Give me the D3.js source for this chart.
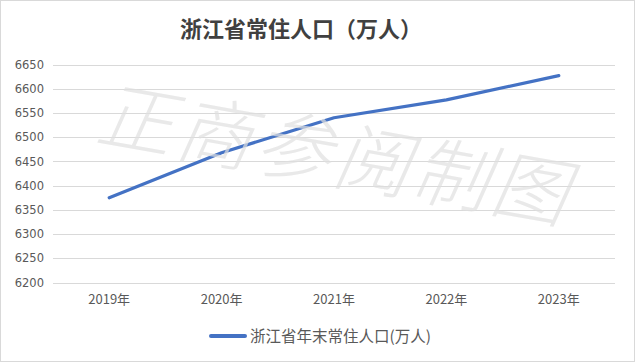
<!DOCTYPE html>
<html>
<head>
<meta charset="utf-8">
<script src="https://cdn.jsdelivr.net/npm/d3@7"></script>
<style>
  body { margin: 0; background: #fff; }
  text { font-family: "Noto Sans CJK SC", "DejaVu Sans", sans-serif; }
</style>
</head>
<body>
<div id="chart-area"></div>
<script>
// data
var years = ["2019年", "2020年", "2021年", "2022年", "2023年"];
var population = [6375, 6468, 6540, 6577, 6627];
var yTicks = [6200, 6250, 6300, 6350, 6400, 6450, 6500, 6550, 6600, 6650];
var title = "浙江省常住人口（万人）";
var seriesName = "浙江省年末常住人口(万人)";

var width = 635;
var height = 362;
var plot = {left: 53, right: 615, top: 64.5, bottom: 282.5};

var svg = d3.select("#chart-area")
  .append("svg")
    .attr("width", width)
    .attr("height", height);

svg.append("rect")
  .attr("x", 0.5).attr("y", 0.5)
  .attr("width", width - 1).attr("height", height - 1)
  .attr("fill", "#fff")
  .attr("stroke", "#d9d9d9");

var x = d3.scaleBand()
  .domain(years)
  .range([plot.left, plot.right]);

var y = d3.scaleLinear()
  .domain([6200, 6650])
  .range([plot.bottom, plot.top]);

// grid lines
svg.append("g")
  .selectAll("line")
  .data(yTicks)
  .enter().append("line")
    .attr("x1", plot.left).attr("x2", plot.right)
    .attr("y1", d => Math.round(y(d)) + 0.5)
    .attr("y2", d => Math.round(y(d)) + 0.5)
    .attr("stroke", "#d9d9d9");

// y axis labels
var yAxis = d3.axisLeft(y)
  .tickValues(yTicks)
  .tickFormat(d3.format("d"))
  .tickSize(0)
  .tickPadding(9);
svg.append("g")
  .attr("transform", "translate(" + (plot.left) + ",0)")
  .call(yAxis)
  .call(g => g.select(".domain").remove())
  .selectAll("text")
    .attr("fill", "#595959")
    .attr("font-size", "11.5px")
    .style("font-family", "DejaVu Sans, sans-serif");

// x axis labels
var xAxis = d3.axisBottom(x).tickSize(0).tickPadding(12);
svg.append("g")
  .attr("transform", "translate(0," + plot.bottom + ")")
  .call(xAxis)
  .call(g => g.select(".domain").remove())
  .selectAll("text")
    .attr("fill", "#595959")
    .attr("font-size", "13px");

// line
var line = d3.line()
  .x((d, i) => x(years[i]) + x.bandwidth() / 2)
  .y(d => y(d));

svg.append("path")
  .datum(population)
  .attr("d", line)
  .attr("fill", "none")
  .attr("stroke", "#4472c4")
  .attr("stroke-width", 3.2)
  .attr("stroke-linejoin", "round")
  .attr("stroke-linecap", "round");

// watermark
svg.append("text")
  .attr("transform", "translate(94,140) rotate(10) skewX(-14)")
  .attr("font-size", "76px")
  .attr("letter-spacing", "4px")
  .attr("font-weight", 300)
  .attr("fill", "#e0e0e0")
  .attr("opacity", 0.7)
  .text("正商参阅制图");

// title
svg.append("text")
  .attr("x", 180)
  .attr("y", 37)
  .attr("font-size", "22px")
  .attr("font-weight", "bold")
  .attr("fill", "#404040")
  .text(title);

// legend
svg.append("line")
  .attr("x1", 211).attr("x2", 245)
  .attr("y1", 336).attr("y2", 336)
  .attr("stroke", "#4472c4")
  .attr("stroke-width", 4)
  .attr("stroke-linecap", "round");

svg.append("text")
  .attr("x", 250)
  .attr("y", 342)
  .attr("font-size", "15.5px")
  .attr("fill", "#595959")
  .text(seriesName);
</script>
</body>
</html>
